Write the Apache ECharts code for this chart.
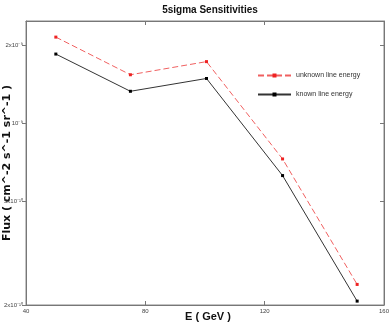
<!DOCTYPE html>
<html>
<head>
<meta charset="utf-8">
<script src="https://cdn.jsdelivr.net/npm/echarts@6/dist/echarts.min.js"></script>
<style>
  html, body { margin: 0; padding: 0; background: #fff; }
  #chart { width: 392px; height: 327px; }
</style>
</head>
<body>
<div id="chart"></div>
<script>
// energies (GeV) and 5 sigma flux sensitivities
var energy = [50, 75, 100.5, 126, 151];
var unknownLine = [2.15e-9, 1.54e-9, 1.73e-9, 7.3e-10, 2.4e-10];
var knownLine = [1.85e-9, 1.33e-9, 1.49e-9, 6.3e-10, 2.07e-10];
var yTicks = [2e-10, 5e-10, 1e-9, 2e-9];
var yTickText = ['2x10\u207B\u00B9\u2070', '5x10\u207B\u00B9\u2070', '10\u207B\u2079', '2x10\u207B\u2079'];

function pairs(xs, ys) {
  return xs.map(function (x, i) { return [x, ys[i]]; });
}

var font = 'Liberation Sans';

var option = {
  animation: false,
  title: {
    text: '5sigma Sensitivities',
    left: 205,
    top: 0,
    textAlign: 'center',
    textStyle: { fontFamily: font, fontSize: 10, fontWeight: 'bold', color: '#111' }
  },
  legend: {
    orient: 'vertical',
    left: 252,
    top: 67,
    itemWidth: 33,
    itemHeight: 5,
    itemGap: 12,
    textStyle: { fontFamily: font, fontSize: 7, color: '#333' },
    data: ['unknown line energy', 'known line energy']
  },
  grid: {
    left: 26, right: 8, top: 21, bottom: 22,
    outerBoundsMode: 'none',
    containLabel: false,
    show: true, borderColor: '#888', borderWidth: 1
  },
  xAxis: [{
    type: 'value',
    min: 40, max: 160, interval: 40,
    name: 'E ( GeV )',
    nameLocation: 'middle',
    nameGap: 6,
    nameMoveOverlap: false,
    nameTextStyle: { fontFamily: font, fontSize: 11, fontWeight: 'bold', color: '#111', padding: [0, 0, 0, 6] },
    axisLine: { lineStyle: { color: '#777' } },
    axisTick: { inside: true, length: 4, lineStyle: { color: '#777' } },
    axisLabel: { fontFamily: font, fontSize: 6, color: '#444', margin: 3 },
    splitLine: { show: false }
  }, {
    type: 'value',
    position: 'top',
    min: 40, max: 160, interval: 40,
    axisLine: { lineStyle: { color: '#777' } },
    axisTick: { inside: true, length: 4, lineStyle: { color: '#777' } },
    axisLabel: { show: false },
    splitLine: { show: false }
  }],
  yAxis: [{
    type: 'log',
    logBase: 10,
    min: 2e-10, max: 2.48e-9,
    name: 'Flux ( cm^-2 s^-1 sr^-1 )',
    nameLocation: 'middle',
    nameGap: 13,
    nameMoveOverlap: false,
    nameTextStyle: { fontFamily: 'DejaVu Sans', fontSize: 11, fontWeight: 'bold', color: '#111', padding: [0, 0, 0, 0] },
    axisLine: { lineStyle: { color: '#777' } },
    axisTick: { length: 4, customValues: yTicks, lineStyle: { color: '#777' } },
    axisLabel: {
      fontFamily: font, fontSize: 6, color: '#444', margin: 3,
      customValues: yTicks,
      formatter: function (v) {
        for (var i = 0; i < yTicks.length; i++) {
          if (Math.abs(v - yTicks[i]) / yTicks[i] < 1e-3) return yTickText[i];
        }
        return '';
      }
    },
    splitLine: { show: false }
  }, {
    type: 'log',
    logBase: 10,
    position: 'right',
    min: 2e-10, max: 2.48e-9,
    axisLine: { lineStyle: { color: '#777' } },
    axisTick: { inside: true, length: 4, customValues: yTicks, lineStyle: { color: '#777' } },
    axisLabel: { show: false },
    splitLine: { show: false }
  }],
  series: [{
    name: 'unknown line energy',
    type: 'line',
    data: pairs(energy, unknownLine),
    symbol: 'rect',
    symbolSize: 3,
    color: '#ee3333',
    lineStyle: { color: '#f06060', width: 1, type: [6, 3] },
    itemStyle: { color: '#ee2222' }
  }, {
    name: 'known line energy',
    type: 'line',
    data: pairs(energy, knownLine),
    symbol: 'rect',
    symbolSize: 3,
    color: '#111',
    lineStyle: { color: '#333', width: 1 },
    itemStyle: { color: '#000' }
  }]
};

var chart = echarts.init(document.getElementById('chart'));
chart.setOption(option);
</script>
</body>
</html>
